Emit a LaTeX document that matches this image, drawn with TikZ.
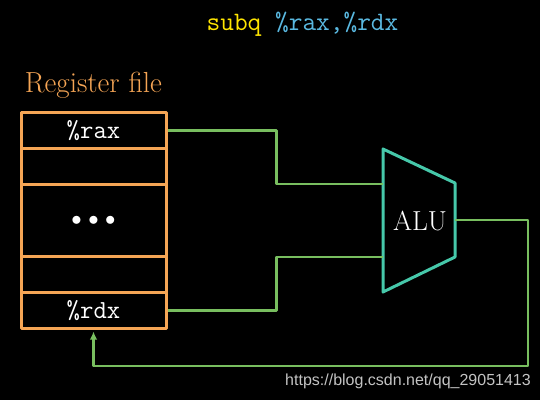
\documentclass[tikz,border=0pt]{standalone}
\usepackage{fontspec}
\newfontfamily\wmfont{Liberation Sans}
\usetikzlibrary{arrows.meta}
\definecolor{rfOrange}{RGB}{245,165,85}
\definecolor{wireGreen}{RGB}{120,190,95}
\definecolor{aluTeal}{RGB}{70,200,170}
\definecolor{insYellow}{RGB}{255,230,0}
\definecolor{insBlue}{RGB}{90,185,225}
\definecolor{wmGray}{RGB}{195,195,195}
\begin{document}
\begin{tikzpicture}[x=1pt,y=-1pt,
  reg/.style={draw=rfOrange, line width=3pt, line join=round, minimum width=145pt, inner sep=0pt, text=white, font=\fontsize{26}{30}\selectfont\ttfamily},
  wire/.style={draw=wireGreen, line width=2.6pt, line join=round}]
\fill[black] (0,0) rectangle (540,400);
\useasboundingbox (0,0) rectangle (540,400);
% title
\node[font=\fontsize{26.6}{30}\selectfont\ttfamily] (title) at (302.5,24) {\textcolor{insYellow}{subq} \textcolor{insBlue}{\%rax,\%rdx}};
% register file
\node[font=\fontsize{29}{34}\selectfont, text=rfOrange] (rflabel) at (93.5,85) {Register file};
\node[reg, minimum height=36pt] (r1) at (93.5,130.5) {\%rax};
\node[reg, minimum height=36pt] (r2) at (93.5,166.5) {};
\node[reg, minimum height=72pt] (r3) at (93.5,220.5) {\fontsize{22}{26}\selectfont${\bullet}\hspace{6.5pt}{\bullet}\hspace{6.5pt}{\bullet}$};
\node[reg, minimum height=36pt] (r4) at (93.5,274.5) {};
\node[reg, minimum height=36pt] (r5) at (93.5,310.5) {\%rdx};
% ALU
\draw[draw=aluTeal, line width=3pt, line join=round] (383,149) -- (455,183) -- (455,257) -- (383,292) -- cycle;
\coordinate (in1) at (383,184);
\coordinate (in2) at (383,257);
\coordinate (out) at (455,220);
\coordinate (corner) at (528,366);
\node[font=\fontsize{27.5}{32}\selectfont, text=white] (alu) at (420,221) {ALU};
% wires
\draw[wire] (r1.east) -- ++(109,0) |- (in1);
\draw[wire] (r5.east) -- ++(109,0) |- (in2);
\draw[wire, -{Latex[length=8pt,width=7.5pt]}, shorten >=1.5pt] (out) -| (corner) -| (r5.south);
% watermark
\node[text=wmGray, font=\wmfont\fontsize{16}{18}\selectfont] (wm) at (408,381) {https://blog.csdn.net/qq\_29051413};
\end{tikzpicture}
\end{document}
